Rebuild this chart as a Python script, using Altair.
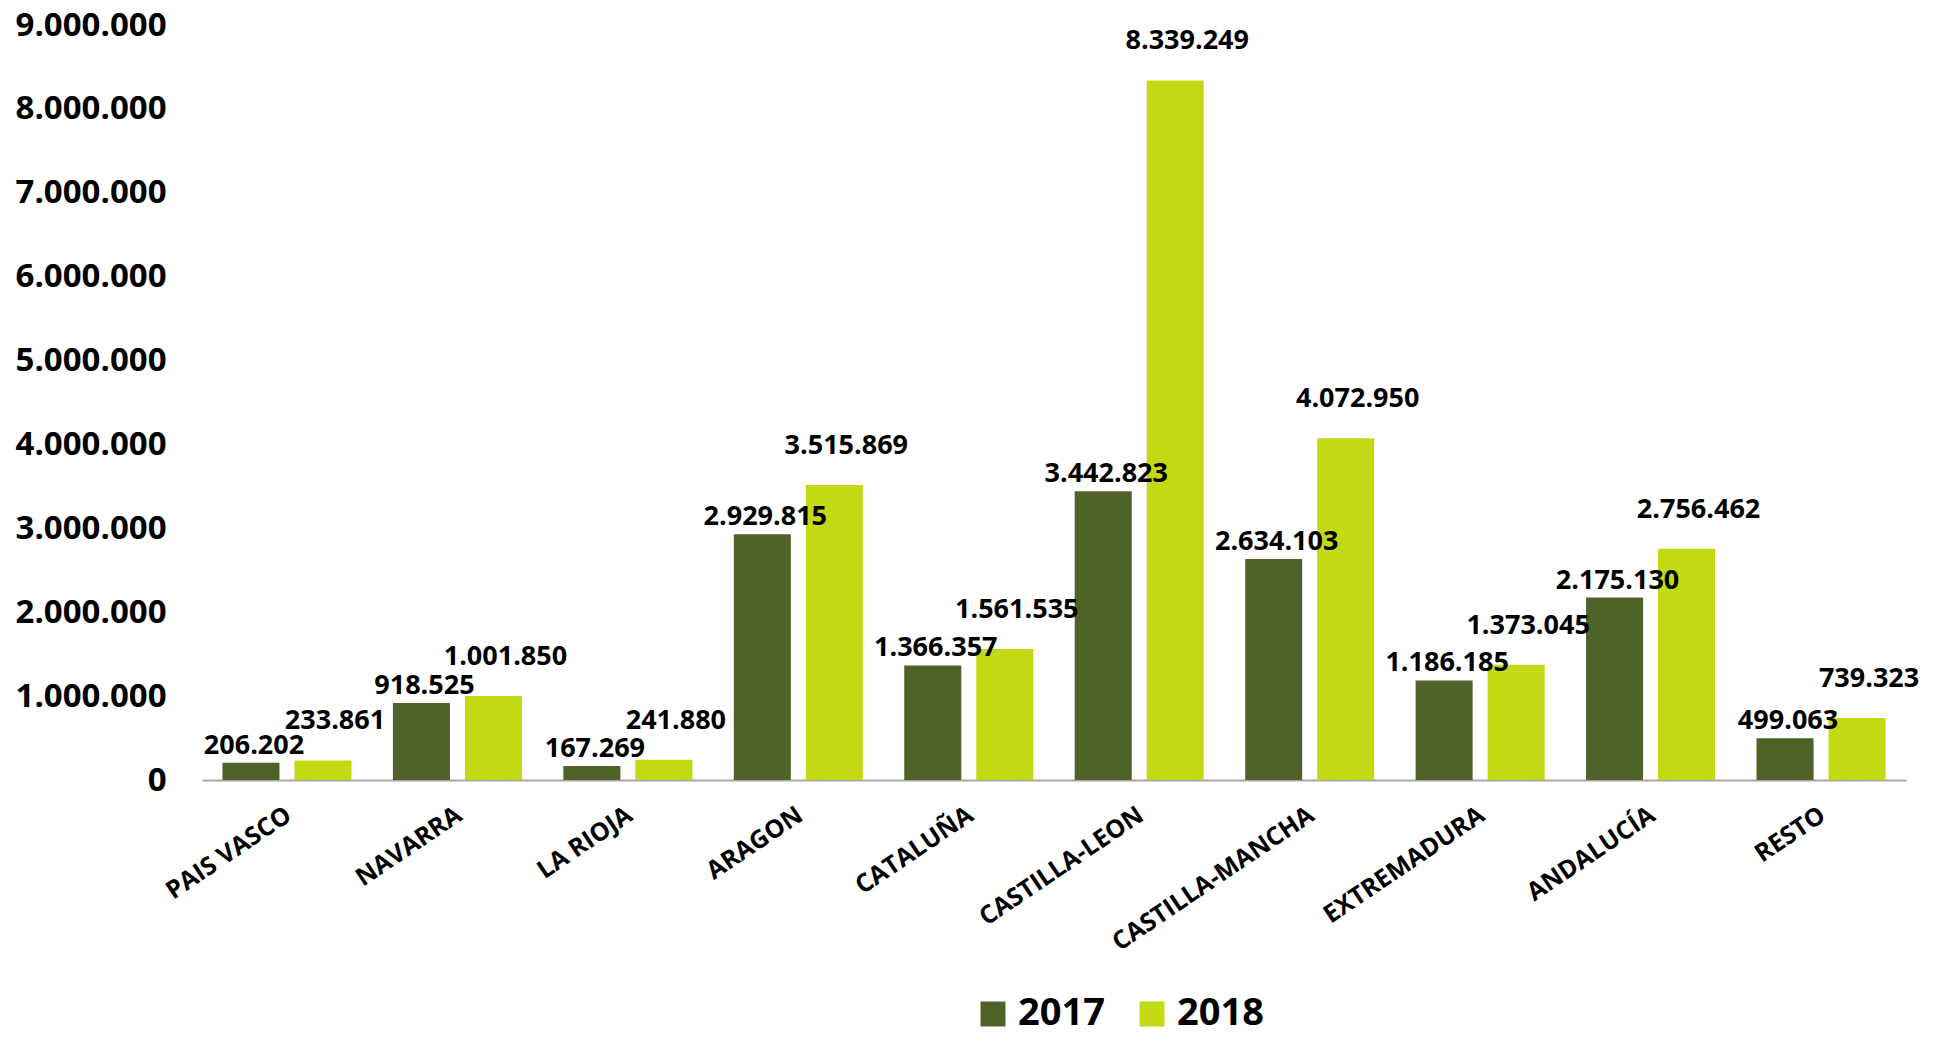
import altair as alt
import pandas as pd

regions = ["PAIS VASCO", "NAVARRA", "LA RIOJA", "ARAGON", "CATALUÑA",
           "CASTILLA-LEON", "CASTILLA-MANCHA", "EXTREMADURA", "ANDALUCÍA", "RESTO"]
years = ["2017", "2018"]
values_2017 = [206202, 918525, 167269, 2929815, 1366357, 3442823, 2634103, 1186185, 2175130, 499063]
values_2018 = [233861, 1001850, 241880, 3515869, 1561535, 8339249, 4072950, 1373045, 2756462, 739323]
y_ticks = [0, 1000000, 2000000, 3000000, 4000000, 5000000, 6000000, 7000000, 8000000, 9000000]
colors = ["#4F6228", "#C3D913"]

rows = []
for r, a, b in zip(regions, values_2017, values_2018):
    rows.append({"region": r, "year": years[0], "value": a})
    rows.append({"region": r, "year": years[1], "value": b})
df = pd.DataFrame(rows)

FONT = "Open Sans"

x_enc = alt.X("region:N", sort=regions,
              scale=alt.Scale(paddingInner=0.243, paddingOuter=0.12),
              axis=alt.Axis(title=None, labelAngle=-34, labelAlign="right", labelBaseline="top",
                            labelFontSize=25, labelFont=FONT, labelFontWeight="bold", labelColor="black",
                            labelPadding=22, labelOffset=-5, labelLimit=0, ticks=False,
                            domainColor="#A6A6A6", domainWidth=2, grid=False, labelOverlap=False))
y_enc = alt.Y("value:Q",
              scale=alt.Scale(domain=[0, 9000000], nice=False),
              axis=alt.Axis(title=None, values=y_ticks, format=",d", grid=False, domain=False, ticks=False,
                            labelFontSize=33, labelFont=FONT, labelFontWeight="bold", labelColor="black",
                            labelPadding=36))
xoff = alt.XOffset("year:N", sort=years, scale=alt.Scale(paddingInner=0.208, paddingOuter=0))

base = alt.Chart(df)

bars = base.mark_bar().encode(
    x=x_enc,
    y=y_enc,
    xOffset=xoff,
    color=alt.Color("year:N", sort=years,
                    scale=alt.Scale(domain=years, range=colors),
                    legend=alt.Legend(title=None, orient="none", legendX=772, legendY=970,
                                      direction="horizontal", symbolType="square", symbolSize=625,
                                      symbolStrokeWidth=0, labelFontSize=38, labelFont=FONT,
                                      labelFontWeight="bold", labelColor="black", columnPadding=28,
                                      labelOffset=6, padding=0)),
)

lab17 = base.transform_filter(alt.datum.year == "2017").mark_text(
    dx=3, dy=-17, fontSize=27, font=FONT, fontWeight="bold", color="black", baseline="middle"
).encode(x=alt.X("region:N", sort=regions), y="value:Q", xOffset=xoff, text=alt.Text("value:Q", format=",d"))

lab18 = base.transform_filter(alt.datum.year == "2018").mark_text(
    dx=12, dy=-39, fontSize=27, font=FONT, fontWeight="bold", color="black", baseline="middle"
).encode(x=alt.X("region:N", sort=regions), y="value:Q", xOffset=xoff, text=alt.Text("value:Q", format=",d"))

chart = alt.layer(bars, lab17, lab18).properties(
    width=1704, height=755,
    autosize=alt.AutoSizeParams(type="none"),
    padding={"left": 194, "top": 17, "right": 15, "bottom": 253},
).configure(
    locale={"number": {"decimal": ",", "thousands": ".", "grouping": [3], "currency": ["", " €"]}}
).configure_view(stroke=None)

chart.save("out.html", embed_options={"renderer": "svg", "actions": False})
